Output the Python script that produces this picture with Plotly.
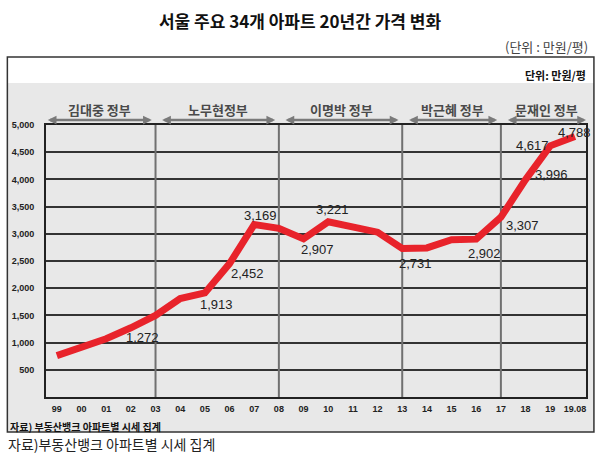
import plotly.graph_objects as go

# ---- data ----
years = ["99", "00", "01", "02", "03", "04", "05", "06", "07", "08", "09",
         "10", "11", "12", "13", "14", "15", "16", "17", "18", "19", "19.08"]
prices = [760, 910, 1070, 1272, 1500, 1810, 1913, 2452, 3169, 3100, 2907,
          3221, 3130, 3030, 2731, 2740, 2890, 2902, 3307, 3996, 4617, 4788]
labeled_years = ["02", "05", "06", "07", "09", "10", "13", "16", "17", "18", "19", "19.08"]
eras = ["김대중 정부", "노무현정부", "이명박 정부", "박근혜 정부", "문재인 정부"]
era_boundaries = ["03", "08", "13", "17"]
y_ticks = [500, 1000, 1500, 2000, 2500, 3000, 3500, 4000, 4500, 5000]

# ---- label offsets (px) ----
label_offsets = {
    "02": (12, -10), "05": (12, -12), "06": (18, -10), "07": (6, 9),
    "09": (14, -11), "10": (4, 12), "13": (13, -15), "16": (8, -14),
    "17": (22, -8), "18": (26, 5), "19": (-18, 0), "19.08": (0, 4),
}

W, H = 600, 457
ML, MR, MT, MB = 42, 13, 125, 60
PW, PH = W - ML - MR, H - MT - MB


def px2paper_x(px):
    return (px - ML) / PW


def px2paper_y(py):
    return (H - MB - py) / PH


xi = list(range(len(years)))
x_lo, x_hi = -0.44, 21.45
ppu = PW / (x_hi - x_lo)

fig = go.Figure()
fig.add_trace(go.Scatter(
    x=xi, y=prices, mode="lines",
    line=dict(color="#e8232b", width=7),
    hoverinfo="skip", showlegend=False,
))

shapes = []
shapes.append(dict(type="rect", xref="paper", yref="paper",
                   x0=px2paper_x(3), x1=px2paper_x(595),
                   y0=px2paper_y(432), y1=px2paper_y(83),
                   fillcolor="#e8e8e8", line=dict(width=0), layer="below"))
shapes.append(dict(type="rect", xref="paper", yref="paper",
                   x0=px2paper_x(3), x1=px2paper_x(595),
                   y0=px2paper_y(432), y1=px2paper_y(57),
                   fillcolor="rgba(0,0,0,0)", line=dict(color="#333333", width=1.5), layer="below"))
for b in era_boundaries:
    bx = years.index(b)
    shapes.append(dict(type="line", xref="x", yref="y", x0=bx, x1=bx, y0=0, y1=5000,
                       line=dict(color="#707070", width=2), layer="between"))

annotations = []
for yr in labeled_years:
    i = years.index(yr)
    dx, dy = label_offsets[yr]
    annotations.append(dict(
        x=i, y=prices[i], xref="x", yref="y", text=f"{prices[i]:,}",
        showarrow=False, xshift=dx, yshift=dy,
        font=dict(family="Liberation Sans, Arial", size=13, color="#222222"),
    ))

bounds = [x_lo] + [years.index(b) for b in era_boundaries] + [x_hi]
gap = 0.15
arrow_y = px2paper_y(120)
text_y = px2paper_y(109)
for k, name in enumerate(eras):
    a0 = bounds[k] + (0.05 if k == 0 else gap + 0.1)
    a1 = bounds[k + 1] - (0.0 if k == len(eras) - 1 else gap)
    annotations.append(dict(
        x=a1, y=arrow_y, xref="x", yref="paper",
        ax=-(a1 - a0) * ppu, ay=0, axref="pixel", ayref="pixel",
        text="", showarrow=True, arrowside="end+start",
        arrowhead=2, arrowsize=0.7, arrowwidth=2.5, arrowcolor="#7a7a7a",
        standoff=0, startstandoff=0,
    ))
    annotations.append(dict(
        x=(a0 + a1) / 2, y=text_y, xref="x", yref="paper", text=name,
        showarrow=False, yanchor="middle",
        font=dict(family="Noto Sans CJK KR", size=13, color="#4a4a4a", weight="bold"),
    ))

annotations.append(dict(
    x=px2paper_x(591), y=px2paper_y(47), xref="paper", yref="paper",
    text="(단위 : 만원/평)", showarrow=False, xanchor="right", yanchor="middle",
    font=dict(family="Noto Sans CJK KR", size=13, color="#444444"),
))
annotations.append(dict(
    x=px2paper_x(589), y=px2paper_y(75), xref="paper", yref="paper",
    text="단위: 만원/평", showarrow=False, xanchor="right", yanchor="middle",
    font=dict(family="Noto Sans CJK KR", size=11, color="#111111", weight="bold"),
))
annotations.append(dict(
    x=px2paper_x(4), y=px2paper_y(426), xref="paper", yref="paper",
    text="자료) 부동산뱅크 아파트별 시세 집계", showarrow=False, xanchor="left", yanchor="middle",
    font=dict(family="Noto Sans CJK KR", size=10, color="#111111", weight="bold"),
))
annotations.append(dict(
    x=px2paper_x(2), y=px2paper_y(444), xref="paper", yref="paper",
    text="자료)부동산뱅크 아파트별 시세 집계", showarrow=False, xanchor="left", yanchor="middle",
    font=dict(family="Noto Sans CJK KR", size=14, color="#222222"),
))

fig.update_layout(
    width=W, height=H,
    margin=dict(l=ML, r=MR, t=MT, b=MB, pad=0),
    paper_bgcolor="white", plot_bgcolor="#e8e8e8",
    title=dict(text="서울 주요 34개 아파트 20년간 가격 변화",
               x=0.5, xref="container", xanchor="center",
               y=1 - 22 / H, yref="container", yanchor="middle",
               font=dict(family="Noto Sans CJK KR", size=17, color="#111111", weight="bold")),
    shapes=shapes, annotations=annotations,
    xaxis=dict(range=[x_lo, x_hi], tickmode="array", tickvals=xi, ticktext=years,
               showgrid=False, zeroline=False, showline=True, linecolor="#222222",
               linewidth=2, mirror=True, ticks="",
               tickfont=dict(family="Liberation Sans, Arial", size=9, color="#222222", weight="bold"),
               ticklabelstandoff=2),
    yaxis=dict(range=[0, 5000], tickmode="array", tickvals=y_ticks,
               ticktext=[f"{v:,}" for v in y_ticks],
               showgrid=True, gridcolor="#333333", gridwidth=2, zeroline=False,
               showline=True, linecolor="#222222", linewidth=2, mirror=True, ticks="",
               tickfont=dict(family="Liberation Sans, Arial", size=9, color="#222222", weight="bold"),
               ticklabelstandoff=8),
)

fig.write_html("out.html", config={"displayModeBar": False},
               post_script="document.body.style.margin='0';document.body.style.overflow='hidden';")
